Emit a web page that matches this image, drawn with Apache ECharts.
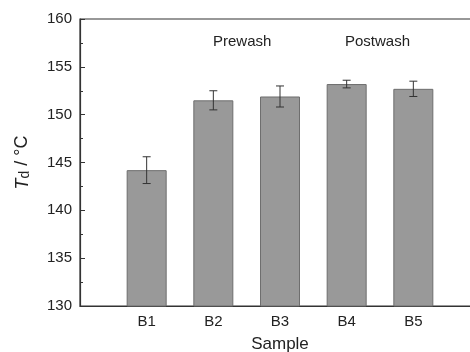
<!DOCTYPE html>
<html>
<head>
<meta charset="utf-8">
<script src="https://cdn.jsdelivr.net/npm/echarts@6/dist/echarts.min.js"></script>
<style>
  html, body { margin: 0; padding: 0; background: #fff; }
  #chart { width: 470px; height: 352px; }
</style>
</head>
<body>
<div id="chart"></div>
<script>
// 样本与数值
const samples = ['', 'B1', 'B2', 'B3', 'B4', 'B5', ''];
const tdValues = [null, 144.2, 151.5, 151.9, 153.2, 152.7, null];
const tdErrors = [null, 1.4, 1.0, 1.1, 0.4, 0.8, null];
const groupLabels = ['Prewash', 'Postwash'];

const chart = echarts.init(document.getElementById('chart'));

const errorData = samples.map((s, i) =>
  tdValues[i] == null ? null : [i, tdValues[i] - tdErrors[i], tdValues[i] + tdErrors[i]]
).filter(Boolean);

const font = 'Liberation Sans, Arial, sans-serif';

chart.setOption({
  animation: false,
  grid: {
    left: 80, right: -10, top: 19, bottom: 46,
    outerBoundsMode: 'none',
    show: true, borderColor: '#333', borderWidth: 1.2,
  },
  xAxis: {
    type: 'category',
    data: samples,
    boundaryGap: false,
    name: 'Sample',
    nameLocation: 'middle',
    nameGap: 30,
    nameTextStyle: { fontFamily: font, fontSize: 17, color: '#222' },
    axisLine: { lineStyle: { color: '#333', width: 1.2 } },
    axisTick: { show: false },
    axisLabel: { fontFamily: font, fontSize: 15, color: '#222', margin: 8 },
    splitLine: { show: false },
  },
  yAxis: {
    type: 'value',
    min: 130,
    max: 160,
    interval: 5,
    name: '{i|T}{s|d} / °C',
    nameLocation: 'middle',
    nameRotate: 90,
    nameGap: 48,
    nameTextStyle: {
      fontFamily: font, fontSize: 18, color: '#222',
      rich: {
        i: { fontFamily: font, fontSize: 18, fontStyle: 'italic', color: '#222' },
        s: { fontFamily: font, fontSize: 14, color: '#222', verticalAlign: 'bottom', padding: [5, 0, 0, 0] },
      },
    },
    axisLine: { show: true, lineStyle: { color: '#333', width: 1.2 } },
    axisTick: { show: true, inside: true, length: 5, lineStyle: { color: '#333' } },
    minorTick: { show: true, splitNumber: 2, length: 3, lineStyle: { color: '#333' } },
    axisLabel: { fontFamily: font, fontSize: 15, color: '#222', margin: 8 },
    splitLine: { show: false },
  },
  graphic: [
    { type: 'text', left: 213, top: 34, style: { text: groupLabels[0], font: '15px ' + font, fill: '#222' } },
    { type: 'text', left: 345, top: 34, style: { text: groupLabels[1], font: '15px ' + font, fill: '#222' } },
  ],
  series: [
    {
      type: 'bar',
      data: tdValues,
      barWidth: 40,
      itemStyle: { color: '#999999', borderColor: '#6e6e6e', borderWidth: 1 },
    },
    {
      type: 'custom',
      data: errorData,
      z: 10,
      renderItem: (params, api) => {
        const x = api.value(0);
        const lo = api.coord([x, api.value(1)]);
        const hi = api.coord([x, api.value(2)]);
        const cap = 4;
        const style = { stroke: '#333', lineWidth: 1 };
        return {
          type: 'group',
          children: [
            { type: 'line', shape: { x1: lo[0], y1: lo[1], x2: hi[0], y2: hi[1] }, style },
            { type: 'line', shape: { x1: lo[0] - cap, y1: lo[1], x2: lo[0] + cap, y2: lo[1] }, style },
            { type: 'line', shape: { x1: hi[0] - cap, y1: hi[1], x2: hi[0] + cap, y2: hi[1] }, style },
          ],
        };
      },
    },
  ],
});
</script>
</body>
</html>
